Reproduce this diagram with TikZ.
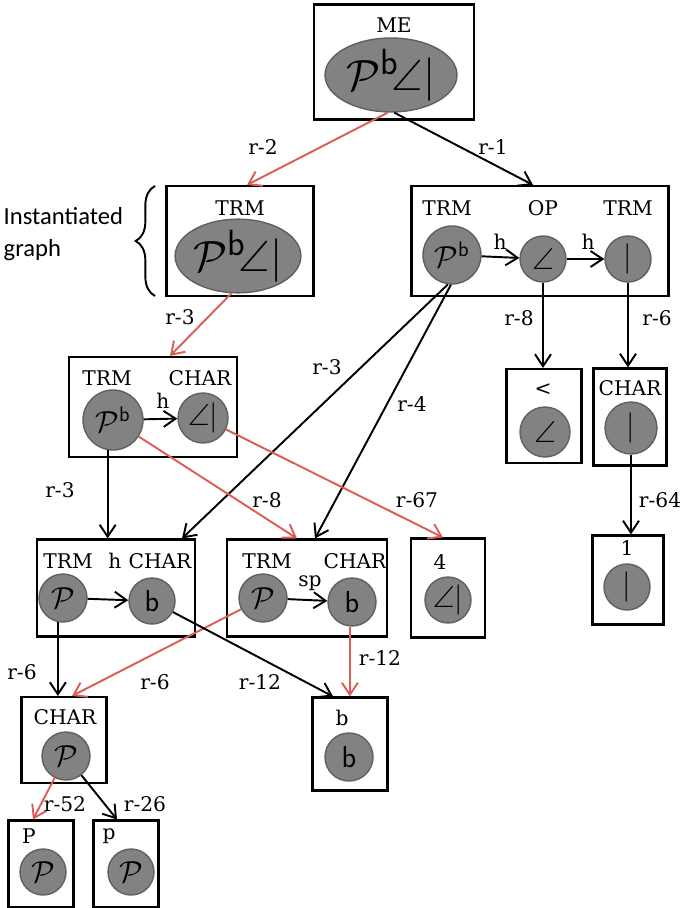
\documentclass[tikz,border=0pt]{standalone}
\usepackage{amsmath,amssymb}
\usepackage{fontspec}
\newfontfamily\notefont{Carlito}
\newfontfamily\labfont{DejaVu Serif}
\usepackage{tikz}
\usetikzlibrary{shapes.geometric, calc, arrows.meta, decorations.pathreplacing, positioning}
\definecolor{redarc}{RGB}{222,92,86}
\definecolor{blobfill}{RGB}{130,130,130}
\definecolor{blobline}{RGB}{96,96,96}
\tikzstyle{frame}=[draw, rectangle, line width=1.2pt, inner sep=0pt]
\tikzstyle{blob}=[draw=blobline, fill=blobfill, circle, inner sep=0pt, font=\LARGE]
\tikzstyle{oval}=[draw=blobline, fill=blobfill, ellipse, inner sep=0pt, font=\Huge]
\tikzstyle{tag}=[font=\labfont\fontsize{11.5}{14}\selectfont, inner sep=1pt]
\tikzstyle{rel}=[line width=1.1pt, ->]
\newcommand{\hwP}{$\mathcal{P}$}
\newcommand{\hwPb}{$\mathcal{P}^{\mathsf{b}}$}
\newcommand{\hwLt}{$\angle$}
\newcommand{\hwOne}{$|$}
\newcommand{\hwLtOne}{$\angle|$}
\newcommand{\hwFull}{$\mathcal{P}^{\mathsf{b}}\!\angle|$}
\newcommand{\hwB}{$\mathsf{b}$}

\begin{document}
\begin{tikzpicture}[x=0.02cm, y=-0.02cm, thick, >={Straight Barb[length=2.4mm,width=3.2mm]}]
    \useasboundingbox (0,0) rectangle (685,908);
    % whole expression
    \node[frame, minimum width=3.2cm, minimum height=2.3cm] (me) at (394,62) {};
    \node[tag] (meT) at (394,25) {ME};
    \node[oval, minimum width=2.64cm, minimum height=1.48cm] (meE) at (391,75) {\hwFull};

    % instantiated graph
    \node[frame, minimum width=2.94cm, minimum height=2.2cm] (trmL) at (240,241) {};
    \node[tag] (trmLT) at (240,208) {TRM};
    \node[oval, minimum width=2.4cm, minimum height=1.12cm] (trmLE) at (238,256) {\hwFull};
    \draw[line width=1.1pt, decorate, decoration={brace, amplitude=11pt}] (155,296) -- (155,186);
    \node[font=\notefont\fontsize{14}{18}\selectfont, align=left, anchor=west, inner sep=0pt] (inst) at (3,234) {Instantiated\\graph};

    % right tree
    \node[frame, minimum width=5.14cm, minimum height=2.2cm] (rbox) at (540,241) {};
    \node[tag] (rT1) at (447,208) {TRM};
    \node[tag] (rT2) at (543,208) {OP};
    \node[tag] (rT3) at (628,208) {TRM};
    \node[blob, minimum size=1.16cm] (rc1) at (452,255) {\hwPb};
    \node[blob, minimum size=0.92cm] (rc2) at (543,259) {\hwLt};
    \node[blob, minimum size=0.92cm] (rc3) at (628,259) {\hwOne};
    \node[tag] (rh1) at (500,242) {h};
    \node[tag] (rh2) at (588,242) {h};

    \node[frame, minimum width=1.5cm, minimum height=1.88cm] (ltbox) at (544,416) {};
    \node[tag] (ltT) at (543,390) {\textless};
    \node[blob, minimum size=1.0cm] (ltc) at (545,432) {\hwLt};

    \node[frame, minimum width=1.46cm, minimum height=1.94cm] (charR) at (630,417) {};
    \node[tag] (charRT) at (630,388) {CHAR};
    \node[blob, minimum size=1.04cm] (charRc) at (631,428) {\hwOne};

    \node[frame, minimum width=1.42cm, minimum height=1.78cm] (onebox) at (628,580) {};
    \node[tag] (oneT) at (627,548) {1};
    \node[blob, minimum size=0.92cm] (onec) at (627,587) {\hwOne};

    % middle level
    \node[frame, minimum width=3.36cm, minimum height=2.0cm] (midbox) at (153,407) {};
    \node[tag] (midT1) at (107,378) {TRM};
    \node[tag] (midT2) at (200,378) {CHAR};
    \node[blob, minimum size=1.2cm] (mc1) at (113,420) {\hwPb};
    \node[blob, minimum size=1.0cm] (mc2) at (203,418) {\hwLtOne};
    \node[tag] (midh) at (163,401) {h};

    \node[frame, minimum width=1.48cm, minimum height=1.98cm] (fourbox) at (448,588) {};
    \node[tag] (fourT) at (440,562) {4};
    \node[blob, minimum size=0.92cm] (fourc) at (448,600) {\hwLtOne};

    % lower level
    \node[frame, minimum width=3.16cm, minimum height=1.94cm] (blbox) at (116,588) {};
    \node[tag] (blT1) at (68,561) {TRM};
    \node[tag] (blh) at (115,561) {h};
    \node[tag] (blT2) at (160,561) {CHAR};
    \node[blob, minimum size=0.96cm] (blc1) at (63,598) {\hwP};
    \node[blob, minimum size=0.92cm] (blc2) at (152,601) {\hwB};

    \node[frame, minimum width=3.2cm, minimum height=1.94cm] (bmbox) at (307,588) {};
    \node[tag] (bmT1) at (267,561) {TRM};
    \node[tag] (bmT2) at (355,561) {CHAR};
    \node[blob, minimum size=0.96cm] (bmc1) at (263,598) {\hwP};
    \node[blob, minimum size=0.96cm] (bmc2) at (352,602) {\hwB};
    \node[tag] (bmsp) at (310,583) {sp};

    \node[frame, minimum width=1.5cm, minimum height=1.86cm] (bbox) at (350,744) {};
    \node[tag] (bT) at (342,718) {b};
    \node[blob, minimum size=0.96cm] (bc) at (349,757) {\hwB};

    \node[frame, minimum width=1.7cm, minimum height=1.72cm] (charB) at (64,740) {};
    \node[tag] (charBT) at (65,717) {CHAR};
    \node[blob, minimum size=0.96cm] (charBc) at (66,756) {\hwP};

    \node[frame, minimum width=1.3cm, minimum height=1.74cm] (Pbox) at (41,864) {};
    \node[tag] (PT) at (29,836) {P};
    \node[blob, minimum size=0.92cm] (Pc) at (43,872) {\hwP};

    \node[frame, minimum width=1.3cm, minimum height=1.74cm] (pbox) at (126,864) {};
    \node[tag] (pT) at (109,836) {p};
    \node[blob, minimum size=0.92cm] (pc) at (131,872) {\hwP};

    % relations
    \path[rel, redarc] (meE.265) edge ($(trmL.north)+(7,0)$);
    \path[rel] (meE.275) edge ($(rbox.north)+(-7,0)$);
    \path[rel, redarc] (trmLE.260) edge ($(midbox.north)+(17,0)$);
    \path[rel] (rc1) edge (rc2);
    \path[rel] (rc2) edge (rc3);
    \path[rel] (rc2.south) edge (rc2.south |- ltbox.north);
    \path[rel] (rc3.south) edge (rc3.south |- charR.north);
    \path[rel] (charRc.south) edge (charRc.south |- onebox.north);
    \path[rel] (rc1.262) edge ($(blbox.north)+(66,0)$);
    \path[rel] (rc1.268) edge ($(bmbox.north)+(8,0)$);
    \path[rel] (mc1) edge (mc2);
    \path[rel, redarc] (mc1) edge ($(bmbox.north)+(-10,0)$);
    \path[rel, redarc] (mc2) edge ($(fourbox.north)+(-5,0)$);
    \path[rel] (mc1.260) edge (mc1.260 |- blbox.north);
    \path[rel] (blc1) edge (blc2);
    \path[rel] (bmc1) edge (bmc2);
    \path[rel] (blc1.258) edge (blc1.258 |- charB.north);
    \path[rel, redarc] (bmc1) edge ($(charB.north)+(8,0)$);
    \path[rel] (blc2) edge ($(bbox.north)+(-17,0)$);
    \path[rel, redarc] (bmc2.265) edge (bmc2.265 |- bbox.north);
    \path[rel, redarc] (charBc) edge ($(Pbox.north)+(-8,0)$);
    \path[rel] (charBc) edge ($(pbox.north)+(-9,0)$);

    % relation names
    \node[tag] (l1) at (263,147) {r-2};
    \node[tag] (l2) at (493,147) {r-1};
    \node[tag] (l3) at (180,317) {r-3};
    \node[tag] (l4) at (519,318) {r-8};
    \node[tag] (l5) at (657,318) {r-6};
    \node[tag] (l6) at (327,367) {r-3};
    \node[tag] (l7) at (412,404) {r-4};
    \node[tag] (l8) at (60,490) {r-3};
    \node[tag] (l9) at (267,500) {r-8};
    \node[tag] (l10) at (417,500) {r-67};
    \node[tag] (l11) at (660,500) {r-64};
    \node[tag] (l12) at (22,672) {r-6};
    \node[tag] (l13) at (155,682) {r-6};
    \node[tag] (l14) at (260,682) {r-12};
    \node[tag] (l15) at (380,658) {r-12};
    \node[tag] (l16) at (65,804) {r-52};
    \node[tag] (l17) at (145,804) {r-26};
\end{tikzpicture}
\end{document}
